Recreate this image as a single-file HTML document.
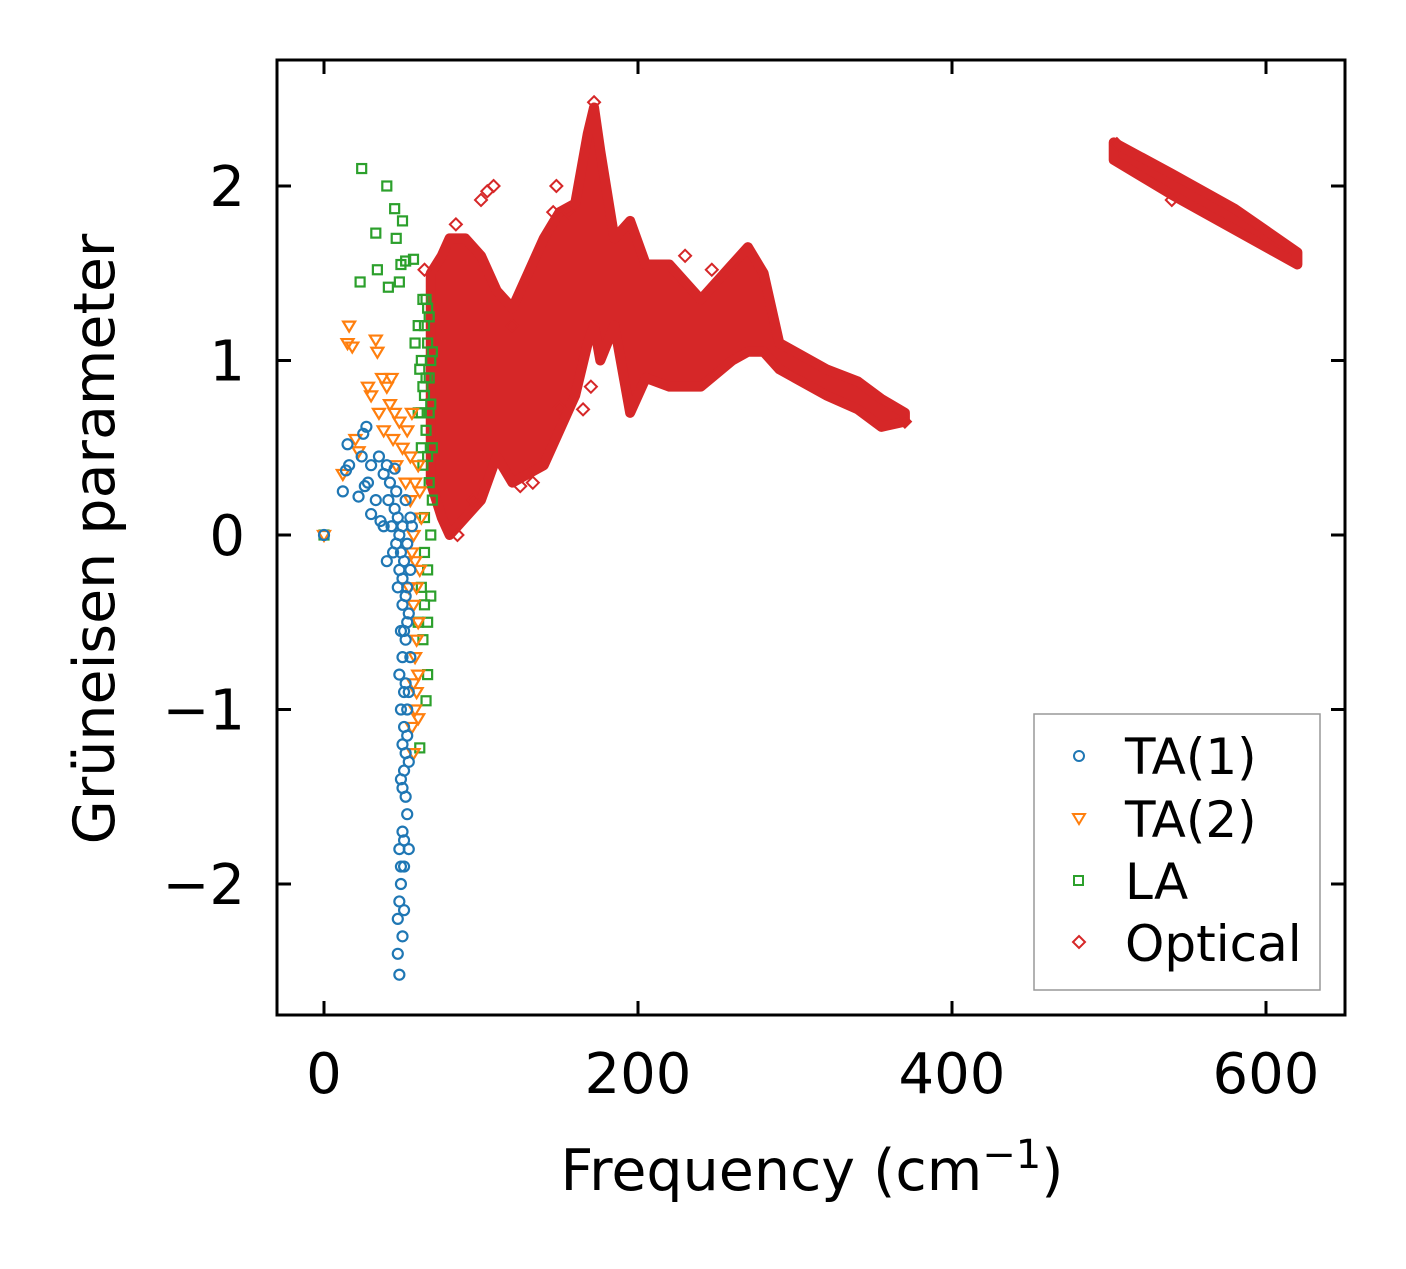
<!DOCTYPE html>
<html><head><meta charset="utf-8"><style>
body{margin:0;background:#fff}
svg text{font-family:"DejaVu Sans","Liberation Sans",sans-serif;fill:#000}
</style></head><body>
<svg id="chart" width="1406" height="1264" xmlns="http://www.w3.org/2000/svg">
<g id="marks"></g>
<rect x="277" y="60" width="1068" height="955" fill="none" stroke="#000" stroke-width="3"/>
<g id="axes"></g>
<text x="812" y="1190" font-size="57" text-anchor="middle">Frequency (cm<tspan font-size="40" dy="-22">−1</tspan><tspan dy="22">)</tspan></text>
<text transform="translate(114,539) rotate(-90)" font-size="57" text-anchor="middle">Grüneisen parameter</text>
<g>
<rect x="1034" y="714" width="286" height="276" fill="#fff" stroke="#999" stroke-width="1.5"/>
<circle cx="1079" cy="756" r="5" fill="none" stroke="#1f77b4" stroke-width="2"/>
<text x="1125" y="774" font-size="50">TA(1)</text>
<path d="M1073,814 L1085,814 L1079,824 Z" fill="none" stroke="#ff7f0e" stroke-width="2"/>
<text x="1125" y="837" font-size="50">TA(2)</text>
<rect x="1074" y="876" width="9" height="9" fill="none" stroke="#2ca02c" stroke-width="2"/>
<text x="1125" y="899" font-size="50">LA</text>
<path d="M1079,936 L1085,942 L1079,948 L1073,942 Z" fill="none" stroke="#d62728" stroke-width="2"/>
<text x="1125" y="961" font-size="50">Optical</text>
</g>
</svg>
<script>
const xTicks=[0,200,400,600];
const yTicks=[-2,-1,0,1,2];
const yTickLabels=["−2","−1","0","1","2"];
const ta1=[[0,0],[12,0.25],[14,0.37],[15,0.52],[16,0.4],[22,0.22],[24,0.45],[25,0.58],[27,0.62],[26,0.28],[28,0.3],[30,0.12],[30,0.4],[33,0.2],[35,0.45],[36,0.08],[38,0.35],[38,0.05],[40,0.4],[40,-0.15],[41,0.2],[42,0.3],[43,0.05],[44,-0.1],[45,0.38],[45,0.15],[46,-0.05],[46,0.25],[47,0.1],[48,-0.2],[48,-0.8],[49,-1.4],[48,-1.8],[47,-2.2],[48,-2.52],[47,-2.4],[49,-2.0],[50,-1.7],[50,-1.2],[50,-0.4],[51,-0.9],[51,-2.15],[52,-1.5],[52,-0.6],[53,-1.0],[53,-0.3],[54,-1.3],[54,-1.8],[55,-0.7],[55,0.1],[52,0.2],[50,0.05],[49,-0.1],[51,-1.1],[52,-1.25],[53,-1.6],[51,-1.35],[50,-1.45],[49,-1.0],[53,-0.5],[54,-0.9],[50,-2.3],[49,-1.9],[51,-1.75],[50,-0.25],[51,-0.55],[52,-0.85],[53,-1.15],[51,-0.15],[52,-0.35],[54,-0.45],[50,-0.7],[49,-0.55],[51,-1.9],[48,-2.1],[53,-0.05],[48,0.0],[47,-0.3],[55,-0.2],[56,0.05]];
const ta2=[[0,0],[12,0.35],[16,1.2],[15,1.1],[18,1.08],[20,0.55],[22,0.48],[28,0.85],[30,0.8],[33,1.12],[34,1.05],[35,0.7],[37,0.9],[38,0.6],[40,0.85],[42,0.75],[43,0.9],[44,0.55],[45,0.7],[46,0.4],[48,0.65],[50,0.5],[52,0.3],[53,0.6],[55,0.2],[56,-0.1],[57,-0.4],[58,-0.7],[58,-1.0],[57,-1.25],[59,-0.9],[60,-0.5],[60,0.4],[61,-0.2],[56,0.7],[54,-0.3],[59,-0.6],[62,0.1],[58,0.3],[56,-1.1],[60,-0.8],[57,0.0],[59,-0.3],[61,0.25],[55,0.45],[58,-0.15],[60,-1.05],[57,-0.85]];
const la=[[0,0],[23,1.45],[24,2.1],[33,1.73],[34,1.52],[40,2.0],[41,1.42],[45,1.87],[46,1.7],[48,1.45],[49,1.55],[50,1.8],[52,1.57],[57,1.58],[58,1.1],[60,1.2],[62,1.0],[63,1.35],[64,0.8],[65,0.6],[66,1.3],[67,0.3],[68,0.0],[66,-0.2],[64,-0.4],[62,-0.3],[63,-0.6],[65,-0.95],[61,-1.22],[66,-0.8],[68,-0.35],[67,0.9],[69,0.5],[62,0.5],[60,-0.5],[64,1.2],[66,1.1],[68,1.0],[65,0.9],[67,0.7],[63,0.4],[69,0.2],[64,0.1],[66,0.45],[68,0.75],[65,1.35],[67,1.25],[69,1.05],[63,0.85],[64,-0.1],[66,-0.5],[62,0.7],[61,0.95],[60,0.7]];
const optFreq=[68,75,80,90,100,110,120,130,140,150,160,168,172,176,185,195,205,220,240,260,270,280,290,300,320,340,355,370];
const optLow=[0.3,0.1,0.0,0.1,0.2,0.45,0.3,0.35,0.4,0.6,0.8,1.1,1.2,1.0,1.2,0.7,0.9,0.85,0.85,1.0,1.05,1.05,0.95,0.9,0.8,0.72,0.62,0.65];
const optHigh=[1.5,1.6,1.7,1.7,1.6,1.4,1.3,1.5,1.7,1.85,1.9,2.3,2.45,2.2,1.7,1.8,1.55,1.55,1.35,1.55,1.65,1.5,1.1,1.05,0.95,0.88,0.78,0.7];
const hiFreq=[503,540,580,620];
const hiLow=[2.15,1.95,1.75,1.55];
const hiHigh=[2.25,2.07,1.87,1.62];
const optPts=[[64,1.52],[84,1.78],[100,1.92],[104,1.97],[108,2.0],[148,2.0],[146,1.85],[156,1.85],[165,0.72],[170,0.85],[150,0.73],[125,0.28],[133,0.3],[370,0.65],[230,1.6],[247,1.52],[85,0.0],[95,0.2],[120,1.2],[172,2.48],[540,1.92],[505,2.24]];
const X=f=>324+f*1.57, Y=g=>535-g*174.5;
const NS="http://www.w3.org/2000/svg";
const marks=document.getElementById('marks'), axes=document.getElementById('axes');
function mk(tag,attrs,parent){const e=document.createElementNS(NS,tag);for(const k in attrs)e.setAttribute(k,attrs[k]);parent.appendChild(e);return e;}
function band(fr,lo,hi,name){let d="M"+fr.map((f,i)=>X(f)+","+Y(hi[i])).join(" L");for(let i=fr.length-1;i>=0;i--)d+=" L"+X(fr[i])+","+Y(lo[i]);d+="Z";
const p=mk('path',{d:d,fill:'#d62728',stroke:'#d62728','stroke-width':10,'stroke-linejoin':'round'},marks);

}
band(optFreq,optLow,optHigh,'optical-band-low');
band(hiFreq,hiLow,hiHigh,'optical-band-high');
optPts.forEach(p=>{const x=X(p[0]),y=Y(p[1]);const e=mk('path',{d:`M${x},${y-6}L${x+6},${y}L${x},${y+6}L${x-6},${y}Z`,fill:'none',stroke:'#d62728','stroke-width':2},marks);

});
la.forEach(p=>{const e=mk('rect',{x:X(p[0])-4.5,y:Y(p[1])-4.5,width:9,height:9,fill:'none',stroke:'#2ca02c','stroke-width':2.2},marks);

});
ta2.forEach(p=>{const x=X(p[0]),y=Y(p[1]);const e=mk('path',{d:`M${x-6},${y-4}L${x+6},${y-4}L${x},${y+6}Z`,fill:'none',stroke:'#ff7f0e','stroke-width':2.2},marks);

});
ta1.forEach(p=>{const e=mk('circle',{cx:X(p[0]),cy:Y(p[1]),r:5,fill:'none',stroke:'#1f77b4','stroke-width':2.2},marks);

});
xTicks.forEach(t=>{const x=X(t);
mk('line',{x1:x,y1:1015,x2:x,y2:1001,stroke:'#000','stroke-width':3},axes);
mk('line',{x1:x,y1:60,x2:x,y2:74,stroke:'#000','stroke-width':3},axes);
const l=mk('text',{x:x,y:1093,'font-size':56,'text-anchor':'middle'},axes);l.textContent=t;

});
yTicks.forEach((t,i)=>{const y=Y(t);
mk('line',{x1:277,y1:y,x2:291,y2:y,stroke:'#000','stroke-width':3},axes);
mk('line',{x1:1345,y1:y,x2:1331,y2:y,stroke:'#000','stroke-width':3},axes);
const l=mk('text',{x:245,y:y+20,'font-size':56,'text-anchor':'end'},axes);l.textContent=yTickLabels[i];

});
</script>
</body></html>
